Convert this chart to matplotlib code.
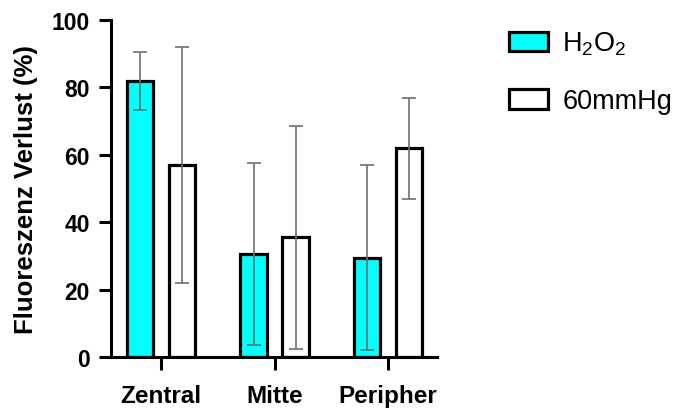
import matplotlib.pyplot as plt
import numpy as np
from matplotlib.patches import Patch

plt.rcParams['font.family'] = ['Liberation Sans', 'DejaVu Sans']
plt.rcParams['mathtext.fontset'] = 'custom'
plt.rcParams['mathtext.rm'] = 'Liberation Sans'

regionen = ['Zentral', 'Mitte', 'Peripher']
h2o2 = [82, 30.5, 29.5]
h2o2_sd = [8.6, 27, 27.5]
mmhg = [57, 35.5, 62]
mmhg_sd = [35, 33, 15]

x = np.arange(len(regionen))
breite = 0.23
versatz = 0.185

fig = plt.figure(figsize=(6.79, 4.10), dpi=100)
ax = fig.add_axes([0.1635, 0.1268, 0.480, 0.822])

fehler = dict(ecolor='#707070', elinewidth=1.2, capsize=4.7, capthick=1.2)
ax.bar(x - versatz, h2o2, breite, color='#00ffff', edgecolor='black',
       linewidth=2.3, yerr=h2o2_sd, error_kw=fehler, zorder=2)
ax.bar(x + versatz, mmhg, breite, color='white', edgecolor='black',
       linewidth=2.3, yerr=mmhg_sd, error_kw=fehler, zorder=2)

ax.set_xlim(-0.44, 2.43)
ax.set_ylim(0, 100)
ax.set_yticks([0, 20, 40, 60, 80, 100])
ax.set_xticks(x)
ax.set_xticklabels(regionen, fontweight='bold', fontsize=17.5)
for t in ax.get_yticklabels():
    t.set_fontweight('bold')
    t.set_fontsize(16.5)
ax.set_ylabel('Fluoreszenz Verlust (%)', fontweight='bold', fontsize=18.5, labelpad=10)

for s in ['top', 'right']:
    ax.spines[s].set_visible(False)
for s in ['left', 'bottom']:
    ax.spines[s].set_linewidth(2.2)
ax.tick_params(axis='y', length=8.6, width=2.2, pad=6.5)
ax.tick_params(axis='x', length=9.5, width=2.2, pad=10)

griffe = [Patch(facecolor='#00ffff', edgecolor='black', linewidth=2.3),
          Patch(facecolor='white', edgecolor='black', linewidth=2.3)]
fig.legend(griffe, [r'$\mathregular{H_2O_2}$', '60mmHg'], loc='upper left',
           bbox_to_anchor=(0.713, 0.984), frameon=False, fontsize=19.5,
           handlelength=1.44, handleheight=0.75, labelspacing=1.13, handletextpad=0.55)

fig.savefig('out.png', dpi=100)
